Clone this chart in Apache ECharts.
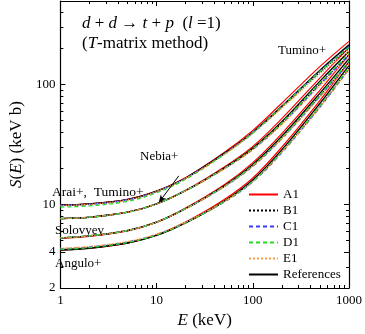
<!DOCTYPE html>
<html>
<head>
<meta charset="utf-8">
<script src="https://cdn.jsdelivr.net/npm/echarts@6/dist/echarts.min.js"></script>
<style>
  html, body { margin: 0; padding: 0; background: #fff; }
  #chart { width: 365px; height: 334px; }
</style>
</head>
<body>
<div id="chart"></div>
<script>
  var energy = [1, 2, 5, 10, 20, 50, 100, 200, 500, 1000]

  // reference curves (black)
  var refArai = [9.9, 10.1, 11.0, 12.9, 16.6, 26.5, 40, 66, 132, 215]
  var refNebia = [7.6, 7.8, 8.6, 10.1, 13.0, 20.0, 29.5, 49, 107, 190]
  var refSolovyev = [5.25, 5.45, 6.05, 7.1, 9.2, 14.2, 21.5, 37, 85, 165]
  var refAngulo = [4.15, 4.3, 4.75, 5.5, 7.0, 10.6, 16, 28.5, 70, 145]

  // fits, group 1 (Arai+, Tumino+)
  var a1Arai = [9.9, 10.1, 11.0, 12.9, 16.7, 27, 41.5, 70, 142, 230]
  var b1Arai = [9.8, 10.0, 10.9, 12.8, 16.5, 26.2, 39.5, 64.5, 127, 200]
  var c1Arai = [9.8, 10.0, 10.9, 12.8, 16.5, 26.3, 39.8, 65.5, 130, 208]
  var d1Arai = [9.5, 9.7, 10.6, 12.5, 16.2, 26.0, 39.5, 65.5, 129, 205]
  var e1Arai = [9.8, 10.0, 10.9, 12.8, 16.5, 26.1, 39.2, 63.5, 123, 190]
  // group 2 (Nebia+)
  var a1Nebia = [7.6, 7.8, 8.6, 10.1, 13.1, 20.4, 30.5, 52, 114, 205]
  var b1Nebia = [7.6, 7.8, 8.6, 10.1, 13.0, 19.8, 29, 47.5, 102, 178]
  var c1Nebia = [7.6, 7.8, 8.6, 10.1, 13.0, 19.8, 28.8, 47, 100, 175]
  var d1Nebia = [7.6, 7.8, 8.6, 10.1, 13.0, 19.9, 29.2, 48, 104, 182]
  var e1Nebia = [7.6, 7.8, 8.6, 10.1, 13.0, 19.7, 28.7, 46.5, 98, 168]
  // group 3 (Solovyev)
  var a1Solovyev = [5.2, 5.4, 6.0, 7.1, 9.3, 14.5, 22.3, 39, 90, 178]
  var b1Solovyev = [5.25, 5.45, 6.05, 7.1, 9.2, 14.0, 21.0, 35.8, 81, 155]
  var c1Solovyev = [5.25, 5.45, 6.05, 7.1, 9.2, 14.0, 20.8, 35.3, 80, 152]
  var d1Solovyev = [5.25, 5.45, 6.05, 7.1, 9.2, 14.1, 21.1, 36, 82, 158]
  var e1Solovyev = [5.25, 5.45, 6.05, 7.1, 9.2, 14.0, 20.9, 35.2, 79, 148]
  // group 4 (Angulo+)
  var a1Angulo = [4.15, 4.3, 4.75, 5.55, 7.1, 10.9, 16.6, 30, 74, 156]
  var b1Angulo = [4.2, 4.35, 4.8, 5.55, 7.0, 10.5, 15.6, 27.5, 66, 138]
  var c1Angulo = [4.25, 4.4, 4.85, 5.6, 7.05, 10.4, 15.4, 27, 65, 135]
  var d1Angulo = [4.2, 4.35, 4.8, 5.55, 7.0, 10.5, 15.6, 27.6, 67, 140]
  var e1Angulo = [4.3, 4.45, 4.9, 5.65, 7.1, 10.5, 15.5, 27.2, 65, 134]

  // tick labels
  var yLabels = [2, 4, 10, 100]
  var yMajor = [2, 4, 10, 100]
  var yMinor = [3, 5, 6, 7, 8, 9, 20, 30, 40, 50, 60, 70, 80, 90, 200, 300, 400]
  var xMinor = [2, 3, 4, 5, 6, 7, 8, 9, 20, 30, 40, 50, 60, 70, 80, 90, 200, 300, 400, 500, 600, 700, 800, 900]

  var font = '"Liberation Serif", "DejaVu Serif", serif'

  var styles = {
    A1: { color: '#ff0000', type: 'solid', width: 1.2 },
    B1: { color: '#000000', type: 'dotted', width: 1.2 },
    C1: { color: '#3a3aff', type: [4, 3], width: 1.3 },
    D1: { color: '#22dd22', type: [4, 3], width: 1.3 },
    E1: { color: '#ff9a3c', type: 'dotted', width: 1.3 },
    References: { color: '#000000', type: 'solid', width: 1.4 }
  }

  function line (name, values, z) {
    var st = styles[name]
    return {
      name: name,
      type: 'line',
      data: energy.map(function (e, i) { return [e, values[i]] }),
      smooth: 0.35,
      symbol: 'none',
      z: z,
      lineStyle: { color: st.color, type: st.type, width: st.width },
      itemStyle: { color: st.color }
    }
  }

  var series = [
    line('A1', a1Arai, 2), line('A1', a1Nebia, 2), line('A1', a1Solovyev, 2), line('A1', a1Angulo, 2),
    line('B1', b1Arai, 4), line('B1', b1Nebia, 4), line('B1', b1Solovyev, 4), line('B1', b1Angulo, 4),
    line('C1', c1Arai, 4), line('C1', c1Nebia, 4), line('C1', c1Solovyev, 4), line('C1', c1Angulo, 4),
    line('D1', d1Arai, 4), line('D1', d1Nebia, 4), line('D1', d1Solovyev, 4), line('D1', d1Angulo, 4),
    line('E1', e1Arai, 4), line('E1', e1Nebia, 4), line('E1', e1Solovyev, 4), line('E1', e1Angulo, 4),
    line('References', refArai, 3), line('References', refNebia, 3),
    line('References', refSolovyev, 3), line('References', refAngulo, 3)
  ]
  // arrow pointing at Nebia+ curve
  series[21].markLine = {
    silent: true,
    symbol: ['none', 'arrow'],
    symbolSize: [5, 8],
    label: { show: false },
    lineStyle: { color: '#000', type: 'solid', width: 1 },
    data: [[{ coord: [17, 17.3] }, { coord: [10.5, 10.3] }]]
  }

  function axisBase (pos, isX) {
    return {
      type: 'log',
      position: pos,
      min: isX ? 1 : 2,
      max: isX ? 1000 : 500,
      logBase: 10,
      axisLine: { onZero: false, lineStyle: { color: '#000', width: 1.2 } },
      splitLine: { show: false },
      minorTick: { show: false }
    }
  }

  var xMain = axisBase('bottom', true)
  xMain.name = '{i|E} (keV)'
  xMain.nameLocation = 'middle'
  xMain.nameGap = 24
  xMain.nameTextStyle = { fontFamily: font, fontSize: 17, color: '#000', rich: { i: { fontFamily: font, fontSize: 17, fontStyle: 'italic', color: '#000' } } }
  xMain.axisTick = { inside: true, length: 5, lineStyle: { color: '#000' } }
  xMain.axisLabel = { fontFamily: font, fontSize: 13, color: '#000', margin: 6, formatter: function (v) { return String(v) } }

  var xMinorAx = axisBase('bottom', true)
  xMinorAx.axisLine = { show: false, onZero: false }
  xMinorAx.axisLabel = { show: false }
  xMinorAx.axisTick = { inside: true, length: 3, customValues: xMinor, lineStyle: { color: '#000' } }

  var xTop = axisBase('top', true)
  xTop.axisLabel = { show: false }
  xTop.axisTick = { inside: true, length: 5, lineStyle: { color: '#000' } }

  var xTopMinor = axisBase('top', true)
  xTopMinor.axisLine = { show: false, onZero: false }
  xTopMinor.axisLabel = { show: false }
  xTopMinor.axisTick = { inside: true, length: 3, customValues: xMinor, lineStyle: { color: '#000' } }

  var yMain = axisBase('left', false)
  yMain.name = '{i|S}({i|E}) (keV b)'
  yMain.nameLocation = 'middle'
  yMain.nameGap = 23
  yMain.nameTextStyle = { fontFamily: font, fontSize: 17, color: '#000', rich: { i: { fontFamily: font, fontSize: 17, fontStyle: 'italic', color: '#000' } } }
  yMain.axisTick = { inside: true, length: 5, customValues: yMajor, lineStyle: { color: '#000' } }
  yMain.axisLabel = { fontFamily: font, fontSize: 13, color: '#000', margin: 5, customValues: yLabels }

  var yMinorAx = axisBase('left', false)
  yMinorAx.axisLine = { show: false, onZero: false }
  yMinorAx.axisLabel = { show: false }
  yMinorAx.axisTick = { inside: true, length: 3, customValues: yMinor, lineStyle: { color: '#000' } }

  var yRight = axisBase('right', false)
  yRight.axisLabel = { show: false }
  yRight.axisTick = { inside: true, length: 5, customValues: yMajor, lineStyle: { color: '#000' } }

  var yRightMinor = axisBase('right', false)
  yRightMinor.axisLine = { show: false, onZero: false }
  yRightMinor.axisLabel = { show: false }
  yRightMinor.axisTick = { inside: true, length: 3, customValues: yMinor, lineStyle: { color: '#000' } }

  var option = {
    animation: false,
    backgroundColor: '#fff',
    grid: { left: 47, right: 15, top: 1, bottom: 40, containLabel: false },
    legend: {
      data: ['A1', 'B1', 'C1', 'D1', 'E1', 'References'],
      orient: 'vertical',
      left: 248,
      top: 188,
      padding: 0,
      itemWidth: 29,
      itemHeight: 13,
      itemGap: 3,
      itemStyle: { opacity: 0 },
      textStyle: { fontFamily: font, fontSize: 13, color: '#000' }
    },
    xAxis: [xMain, xMinorAx, xTop, xTopMinor],
    yAxis: [yMain, yMinorAx, yRight, yRightMinor],
    graphic: [
      { type: 'text', left: 82, top: 15, style: { text: '{i|d} + {i|d} \u2192 {i|t} + {i|p}  ({i|l} =1)', font: '17px ' + font, fill: '#000', rich: { i: { fontStyle: 'italic', fontSize: 17, fontFamily: font } } } },
      { type: 'text', left: 82, top: 35, style: { text: '({i|T}-matrix method)', font: '17px ' + font, fill: '#000', rich: { i: { fontStyle: 'italic', fontSize: 17, fontFamily: font } } } },
      { type: 'text', left: 278, top: 44, style: { text: 'Tumino+', font: '13px ' + font, fill: '#000' } },
      { type: 'text', left: 140, top: 150, style: { text: 'Nebia+', font: '13px ' + font, fill: '#000' } },
      { type: 'text', left: 52, top: 185, style: { text: 'Arai+,  Tumino+', font: '13.5px ' + font, fill: '#000' } },
      { type: 'text', left: 55, top: 224, style: { text: 'Solovyev', font: '13px ' + font, fill: '#000' } },
      { type: 'text', left: 55, top: 257, style: { text: 'Angulo+', font: '13px ' + font, fill: '#000' } }
    ],
    series: series
  }

  var chart = echarts.init(document.getElementById('chart'))
  chart.setOption(option)
</script>
</body>
</html>
